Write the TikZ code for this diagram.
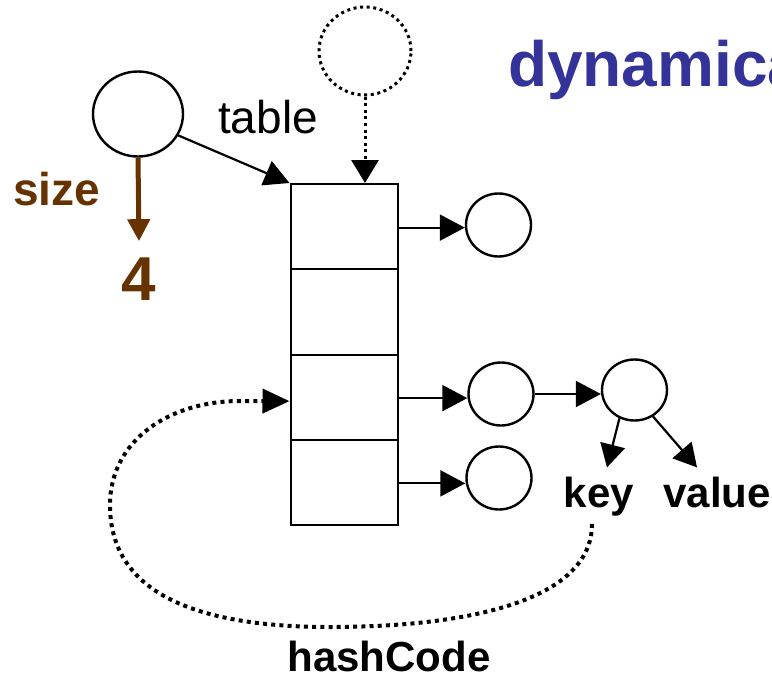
\documentclass[tikz,border=0pt]{standalone}
\usepackage{fontspec}
\setmainfont{Liberation Sans}
\usetikzlibrary{arrows.meta,shapes.geometric}
\definecolor{sizebrown}{HTML}{663300}
\definecolor{titleblue}{HTML}{333399}
\newcommand{\fs}[1]{\fontsize{#1}{#1}\selectfont}

\begin{document}
\begin{tikzpicture}[x=1pt,y=-1pt,
  >={Triangle[length=25pt,width=26pt]},
  obj/.style={ellipse,draw,line width=2.4pt,inner sep=0pt},
  cell/.style={rectangle,draw,line width=2pt,minimum width=107pt,minimum height=85.25pt,inner sep=0pt},
  ptr/.style={->,line width=2.2pt},
  dots/.style={line width=4pt,dash pattern=on 4pt off 4.2pt},
  fine dots/.style={line width=3pt,dash pattern=on 3pt off 3.6pt},
  lbl/.style={font=\fs{42}\bfseries,inner sep=4pt}]
  \useasboundingbox (0,0) rectangle (772,675);

  \node[font=\fs{64}\bfseries,text=titleblue,anchor=base west,inner sep=0pt] (title) at (508,86) {dynamica};

  \node[obj,minimum width=90pt,minimum height=85pt] (map) at (138,114) {};
  \node[obj,fine dots,minimum width=92pt,minimum height=88pt] (other) at (365,51) {};
  \foreach \i in {1,...,4}
    \node[cell] (b\i) at (344,{184+85.25*(\i-0.5)}) {};

  \node[obj,minimum width=65pt,minimum height=63pt] (e1) at (498.5,225) {};
  \node[obj,minimum width=65pt,minimum height=63pt] (e3) at (501,394) {};
  \node[obj,minimum width=65pt,minimum height=63pt] (e4) at (499,478) {};
  \node[obj,minimum width=65pt,minimum height=61pt] (kv) at (634.5,390) {};

  \node[font=\fs{46},anchor=base west,inner sep=0pt] (tname) at (218,133) {table};
  \node[font=\fs{46}\bfseries,text=sizebrown,anchor=base west,inner sep=0pt] (size) at (13,205) {size};
  \node[font=\fs{62}\bfseries,text=sizebrown,anchor=base,inner sep=2pt] (four) at (139,300) {4};
  \node[lbl,anchor=base] (key) at (599,507) {key};
  \node[lbl,anchor=base] (value) at (717,507) {value};
  \node[lbl,anchor=base,inner sep=0pt] (hash) at (389,671) {hashCode};

  \draw[ptr] (map.-28) -- (b1.north west);
  \draw[->,sizebrown,line width=5pt,>={Triangle[length=22pt,width=22pt]}] (map.south) -- ([yshift=14pt]four.north);
  \draw[->,fine dots,>={Triangle[length=23pt,width=27pt]}] (other.south) -- (other.south |- b1.north);
  \foreach \i in {1,3,4}
    \draw[ptr] ([yshift=-1pt]b\i.east) -- ([yshift=-1pt]b\i.east -| e\i.west);
  \draw[ptr] (e3.east) -- (e3.east -| kv.west);
  \draw[ptr,>={Triangle[length=23pt,width=25pt]}] (kv.-118) -- ([xshift=8pt,yshift=5pt]key.north);
  \draw[ptr,>={Triangle[length=23pt,width=25pt]}] (kv.-55) -- ([xshift=-20pt,yshift=5pt]value.north);

  \draw[->,dots,>={Triangle[length=27pt,width=24pt]}] ([xshift=-7pt,yshift=-4pt]key.south)
    .. controls (592,600) and (470,627) .. (330,627)
    .. controls (190,627) and (110,590) .. (110,505)
    .. controls (110,440) and (170,401) .. (240,401)
    -- ([yshift=-4pt]b3.west);
\end{tikzpicture}
\end{document}
